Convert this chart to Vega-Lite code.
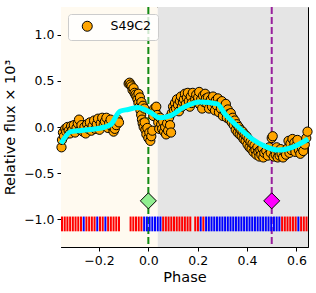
{
  "$schema": "https://vega.github.io/schema/vega-lite/v6.json",
  "width": 247,
  "height": 240,
  "autosize": "none",
  "padding": {"left": 61, "top": 7, "right": 8, "bottom": 46},
  "background": "white",
  "config": {
    "font": "DejaVu Sans",
    "view": {"stroke": "black", "strokeWidth": 1},
    "axis": {
      "domainColor": "black",
      "tickColor": "black",
      "tickSize": 4,
      "labelColor": "black",
      "titleColor": "black",
      "labelFont": "DejaVu Sans",
      "titleFont": "DejaVu Sans",
      "labelFontSize": 12.5,
      "titleFontSize": 14.5,
      "titleFontWeight": "normal",
      "grid": false
    },
    "legend": {
      "orient": "top-left",
      "offset": 7,
      "padding": 6,
      "fillColor": "rgba(255,255,255,0.8)",
      "strokeColor": "#cccccc",
      "cornerRadius": 3,
      "labelFont": "DejaVu Sans",
      "labelFontSize": 12.5,
      "labelColor": "black",
      "symbolOffset": 7,
      "labelOffset": 17,
      "symbolSize": 100,
      "symbolType": "circle",
      "symbolStrokeColor": "black",
      "symbolStrokeWidth": 1,
      "symbolFillColor": "orange"
    }
  },
  "datasets": {
    "bg": [
      {"x0": -0.36, "x1": 0.038, "zone": "early"},
      {"x0": 0.038, "x1": 0.66, "zone": "late"}
    ],
    "vlines": [
      {"phase": 0.0, "flux": -0.8, "kind": "primary"},
      {"phase": 0.5, "flux": -0.8, "kind": "secondary"}
    ],
    "ticks": [
      {"phase": -0.350, "band": "R"}, {"phase": -0.339, "band": "R"}, {"phase": -0.328, "band": "R"}, {"phase": -0.317, "band": "R"},
      {"phase": -0.306, "band": "R"}, {"phase": -0.295, "band": "R"}, {"phase": -0.284, "band": "R"}, {"phase": -0.273, "band": "R"},
      {"phase": -0.262, "band": "B"}, {"phase": -0.251, "band": "R"}, {"phase": -0.240, "band": "R"}, {"phase": -0.229, "band": "R"},
      {"phase": -0.218, "band": "R"}, {"phase": -0.207, "band": "B"}, {"phase": -0.196, "band": "R"}, {"phase": -0.185, "band": "R"},
      {"phase": -0.174, "band": "B"}, {"phase": -0.163, "band": "R"}, {"phase": -0.152, "band": "R"}, {"phase": -0.141, "band": "R"},
      {"phase": -0.130, "band": "R"}, {"phase": -0.119, "band": "R"},
      {"phase": -0.072, "band": "R"}, {"phase": -0.061, "band": "R"}, {"phase": -0.050, "band": "R"}, {"phase": -0.039, "band": "R"},
      {"phase": -0.028, "band": "R"}, {"phase": -0.017, "band": "B"}, {"phase": -0.006, "band": "B"}, {"phase": 0.005, "band": "B"},
      {"phase": 0.016, "band": "B"}, {"phase": 0.027, "band": "B"}, {"phase": 0.038, "band": "B"}, {"phase": 0.049, "band": "B"},
      {"phase": 0.060, "band": "R"}, {"phase": 0.071, "band": "R"}, {"phase": 0.082, "band": "R"}, {"phase": 0.093, "band": "R"},
      {"phase": 0.104, "band": "R"}, {"phase": 0.115, "band": "R"}, {"phase": 0.126, "band": "R"}, {"phase": 0.137, "band": "R"},
      {"phase": 0.148, "band": "R"}, {"phase": 0.159, "band": "R"}, {"phase": 0.170, "band": "R"},
      {"phase": 0.190, "band": "R"}, {"phase": 0.201, "band": "R"}, {"phase": 0.212, "band": "B"}, {"phase": 0.223, "band": "R"},
      {"phase": 0.234, "band": "B"}, {"phase": 0.245, "band": "B"}, {"phase": 0.256, "band": "B"}, {"phase": 0.267, "band": "B"},
      {"phase": 0.278, "band": "B"}, {"phase": 0.289, "band": "B"}, {"phase": 0.300, "band": "B"}, {"phase": 0.311, "band": "B"},
      {"phase": 0.322, "band": "B"}, {"phase": 0.333, "band": "B"}, {"phase": 0.344, "band": "B"}, {"phase": 0.355, "band": "B"},
      {"phase": 0.366, "band": "B"}, {"phase": 0.377, "band": "B"}, {"phase": 0.388, "band": "B"}, {"phase": 0.399, "band": "B"},
      {"phase": 0.410, "band": "B"}, {"phase": 0.421, "band": "B"}, {"phase": 0.432, "band": "B"}, {"phase": 0.443, "band": "B"},
      {"phase": 0.454, "band": "B"}, {"phase": 0.465, "band": "B"}, {"phase": 0.476, "band": "B"}, {"phase": 0.487, "band": "B"},
      {"phase": 0.498, "band": "B"}, {"phase": 0.509, "band": "B"}, {"phase": 0.520, "band": "B"}, {"phase": 0.531, "band": "B"},
      {"phase": 0.542, "band": "R"}, {"phase": 0.553, "band": "R"}, {"phase": 0.564, "band": "R"}, {"phase": 0.575, "band": "R"},
      {"phase": 0.586, "band": "R"}, {"phase": 0.597, "band": "R"}, {"phase": 0.608, "band": "B"}, {"phase": 0.619, "band": "R"},
      {"phase": 0.630, "band": "R"}, {"phase": 0.641, "band": "R"}
    ],
    "model": [
      {"phase": -0.354, "flux": -0.18}, {"phase": -0.314, "flux": -0.05}, {"phase": -0.245, "flux": -0.03},
      {"phase": -0.176, "flux": 0.0}, {"phase": -0.151, "flux": 0.03}, {"phase": -0.115, "flux": 0.17},
      {"phase": -0.082, "flux": 0.19}, {"phase": -0.042, "flux": 0.21}, {"phase": -0.009, "flux": 0.18},
      {"phase": 0.007, "flux": 0.16}, {"phase": 0.047, "flux": 0.1}, {"phase": 0.088, "flux": 0.12},
      {"phase": 0.141, "flux": 0.21}, {"phase": 0.21, "flux": 0.27}, {"phase": 0.279, "flux": 0.25},
      {"phase": 0.311, "flux": 0.14}, {"phase": 0.332, "flux": 0.08}, {"phase": 0.364, "flux": 0.0},
      {"phase": 0.421, "flux": -0.13}, {"phase": 0.473, "flux": -0.21}, {"phase": 0.526, "flux": -0.25},
      {"phase": 0.583, "flux": -0.22}, {"phase": 0.648, "flux": -0.13}
    ],
    "obs": [
      {"phase": -0.352, "flux": -0.22}, {"phase": -0.350, "flux": -0.14}, {"phase": -0.346, "flux": -0.06}, {"phase": -0.342, "flux": -0.1},
      {"phase": -0.337, "flux": -0.02}, {"phase": -0.333, "flux": -0.05}, {"phase": -0.328, "flux": 0.0}, {"phase": -0.323, "flux": -0.04},
      {"phase": -0.318, "flux": -0.07}, {"phase": -0.313, "flux": 0.01}, {"phase": -0.308, "flux": -0.03}, {"phase": -0.302, "flux": 0.02},
      {"phase": -0.297, "flux": -0.06}, {"phase": -0.291, "flux": -0.01}, {"phase": -0.286, "flux": 0.04}, {"phase": -0.281, "flux": 0.08},
      {"phase": -0.276, "flux": -0.03}, {"phase": -0.271, "flux": 0.02}, {"phase": -0.265, "flux": -0.05}, {"phase": -0.259, "flux": 0.0},
      {"phase": -0.254, "flux": -0.07}, {"phase": -0.248, "flux": 0.03}, {"phase": -0.243, "flux": -0.02}, {"phase": -0.237, "flux": 0.05},
      {"phase": -0.231, "flux": -0.04}, {"phase": -0.226, "flux": 0.01}, {"phase": -0.220, "flux": 0.07}, {"phase": -0.215, "flux": -0.02},
      {"phase": -0.209, "flux": 0.03}, {"phase": -0.204, "flux": 0.09}, {"phase": -0.198, "flux": -0.03}, {"phase": -0.193, "flux": 0.04},
      {"phase": -0.187, "flux": 0.1}, {"phase": -0.181, "flux": 0.02}, {"phase": -0.176, "flux": 0.06}, {"phase": -0.170, "flux": 0.1},
      {"phase": -0.164, "flux": -0.01}, {"phase": -0.159, "flux": 0.04}, {"phase": -0.153, "flux": 0.08}, {"phase": -0.147, "flux": 0.0},
      {"phase": -0.141, "flux": -0.05}, {"phase": -0.136, "flux": -0.02}, {"phase": -0.130, "flux": 0.02}, {"phase": -0.124, "flux": 0.08},
      {"phase": -0.119, "flux": 0.05},
      {"phase": -0.080, "flux": 0.47}, {"phase": -0.076, "flux": 0.48}, {"phase": -0.072, "flux": 0.46}, {"phase": -0.068, "flux": 0.44},
      {"phase": -0.064, "flux": 0.40}, {"phase": -0.060, "flux": 0.42}, {"phase": -0.056, "flux": 0.37}, {"phase": -0.052, "flux": 0.35},
      {"phase": -0.048, "flux": 0.33}, {"phase": -0.044, "flux": 0.30}, {"phase": -0.040, "flux": 0.26}, {"phase": -0.036, "flux": 0.22},
      {"phase": -0.032, "flux": 0.18}, {"phase": -0.029, "flux": 0.13}, {"phase": -0.026, "flux": 0.08}, {"phase": -0.023, "flux": 0.04},
      {"phase": -0.040, "flux": 0.36}, {"phase": -0.034, "flux": 0.32}, {"phase": -0.028, "flux": 0.27}, {"phase": -0.022, "flux": 0.23},
      {"phase": -0.016, "flux": 0.2},
      {"phase": -0.019, "flux": 0.0}, {"phase": -0.015, "flux": 0.05}, {"phase": -0.012, "flux": -0.03}, {"phase": -0.008, "flux": -0.08},
      {"phase": -0.004, "flux": -0.01}, {"phase": 0.000, "flux": -0.12}, {"phase": 0.004, "flux": -0.06}, {"phase": 0.008, "flux": -0.15},
      {"phase": 0.012, "flux": -0.1}, {"phase": 0.016, "flux": -0.04}, {"phase": 0.020, "flux": 0.12}, {"phase": 0.024, "flux": 0.2},
      {"phase": 0.028, "flux": 0.17}, {"phase": 0.032, "flux": 0.22}, {"phase": 0.036, "flux": 0.13}, {"phase": 0.040, "flux": 0.05},
      {"phase": 0.044, "flux": -0.02},
      {"phase": 0.048, "flux": 0.1}, {"phase": 0.052, "flux": 0.03}, {"phase": 0.056, "flux": -0.02}, {"phase": 0.060, "flux": 0.06},
      {"phase": 0.064, "flux": -0.05}, {"phase": 0.068, "flux": 0.0}, {"phase": 0.072, "flux": -0.08}, {"phase": 0.076, "flux": 0.04},
      {"phase": 0.080, "flux": -0.04}, {"phase": 0.084, "flux": 0.1}, {"phase": 0.088, "flux": 0.02}, {"phase": 0.092, "flux": -0.06},
      {"phase": 0.095, "flux": 0.15}, {"phase": 0.100, "flux": 0.22}, {"phase": 0.104, "flux": 0.18}, {"phase": 0.108, "flux": 0.26},
      {"phase": 0.112, "flux": 0.2}, {"phase": 0.116, "flux": 0.3}, {"phase": 0.120, "flux": 0.24}, {"phase": 0.124, "flux": 0.17},
      {"phase": 0.128, "flux": 0.28}, {"phase": 0.132, "flux": 0.33}, {"phase": 0.136, "flux": 0.22}, {"phase": 0.140, "flux": 0.27},
      {"phase": 0.144, "flux": 0.3}, {"phase": 0.148, "flux": 0.36}, {"phase": 0.152, "flux": 0.25}, {"phase": 0.156, "flux": 0.32},
      {"phase": 0.160, "flux": 0.37}, {"phase": 0.164, "flux": 0.28}, {"phase": 0.168, "flux": 0.22}, {"phase": 0.172, "flux": 0.33},
      {"phase": 0.176, "flux": 0.26}, {"phase": 0.180, "flux": 0.37}, {"phase": 0.190, "flux": 0.3}, {"phase": 0.194, "flux": 0.35},
      {"phase": 0.198, "flux": 0.27}, {"phase": 0.202, "flux": 0.32}, {"phase": 0.206, "flux": 0.38}, {"phase": 0.210, "flux": 0.24},
      {"phase": 0.214, "flux": 0.3}, {"phase": 0.218, "flux": 0.2}, {"phase": 0.222, "flux": 0.34}, {"phase": 0.226, "flux": 0.27},
      {"phase": 0.230, "flux": 0.36}, {"phase": 0.234, "flux": 0.31},
      {"phase": 0.238, "flux": 0.25}, {"phase": 0.242, "flux": 0.32}, {"phase": 0.246, "flux": 0.2}, {"phase": 0.250, "flux": 0.28},
      {"phase": 0.254, "flux": 0.3}, {"phase": 0.258, "flux": 0.22}, {"phase": 0.262, "flux": 0.33}, {"phase": 0.266, "flux": 0.26},
      {"phase": 0.270, "flux": 0.18}, {"phase": 0.274, "flux": 0.29}, {"phase": 0.278, "flux": 0.23}, {"phase": 0.282, "flux": 0.31},
      {"phase": 0.286, "flux": 0.16}, {"phase": 0.290, "flux": 0.26}, {"phase": 0.294, "flux": 0.2}, {"phase": 0.298, "flux": 0.28},
      {"phase": 0.302, "flux": 0.12}, {"phase": 0.306, "flux": 0.22}, {"phase": 0.310, "flux": 0.17}, {"phase": 0.314, "flux": 0.25},
      {"phase": 0.318, "flux": 0.1}, {"phase": 0.322, "flux": 0.19}, {"phase": 0.326, "flux": 0.14}, {"phase": 0.330, "flux": 0.08},
      {"phase": 0.334, "flux": 0.15}, {"phase": 0.338, "flux": 0.05}, {"phase": 0.342, "flux": 0.1}, {"phase": 0.346, "flux": 0.02},
      {"phase": 0.350, "flux": 0.07}, {"phase": 0.354, "flux": -0.03}, {"phase": 0.358, "flux": 0.03}, {"phase": 0.362, "flux": -0.06},
      {"phase": 0.366, "flux": 0.0}, {"phase": 0.370, "flux": -0.08}, {"phase": 0.374, "flux": -0.03}, {"phase": 0.378, "flux": -0.1},
      {"phase": 0.382, "flux": -0.05}, {"phase": 0.386, "flux": -0.13}, {"phase": 0.390, "flux": -0.08},
      {"phase": 0.394, "flux": -0.15}, {"phase": 0.398, "flux": -0.1}, {"phase": 0.402, "flux": -0.19}, {"phase": 0.406, "flux": -0.13},
      {"phase": 0.410, "flux": -0.22}, {"phase": 0.414, "flux": -0.16}, {"phase": 0.418, "flux": -0.24}, {"phase": 0.422, "flux": -0.18},
      {"phase": 0.426, "flux": -0.27}, {"phase": 0.430, "flux": -0.2}, {"phase": 0.434, "flux": -0.25}, {"phase": 0.438, "flux": -0.3},
      {"phase": 0.442, "flux": -0.22}, {"phase": 0.446, "flux": -0.27}, {"phase": 0.450, "flux": -0.32}, {"phase": 0.454, "flux": -0.25},
      {"phase": 0.458, "flux": -0.3}, {"phase": 0.462, "flux": -0.23}, {"phase": 0.466, "flux": -0.33}, {"phase": 0.470, "flux": -0.28},
      {"phase": 0.478, "flux": -0.26}, {"phase": 0.484, "flux": -0.31}, {"phase": 0.490, "flux": -0.22}, {"phase": 0.496, "flux": -0.28},
      {"phase": 0.500, "flux": -0.12}, {"phase": 0.504, "flux": -0.1}, {"phase": 0.508, "flux": -0.32}, {"phase": 0.512, "flux": -0.25},
      {"phase": 0.516, "flux": -0.3}, {"phase": 0.520, "flux": -0.22}, {"phase": 0.524, "flux": -0.33}, {"phase": 0.528, "flux": -0.27},
      {"phase": 0.532, "flux": -0.31}, {"phase": 0.536, "flux": -0.24}, {"phase": 0.540, "flux": -0.29}, {"phase": 0.546, "flux": -0.33},
      {"phase": 0.552, "flux": -0.27}, {"phase": 0.558, "flux": -0.3}, {"phase": 0.564, "flux": -0.23}, {"phase": 0.568, "flux": -0.15},
      {"phase": 0.572, "flux": -0.28}, {"phase": 0.576, "flux": -0.18}, {"phase": 0.580, "flux": -0.25}, {"phase": 0.584, "flux": -0.13},
      {"phase": 0.588, "flux": -0.22}, {"phase": 0.592, "flux": -0.17}, {"phase": 0.596, "flux": -0.27}, {"phase": 0.600, "flux": -0.2},
      {"phase": 0.604, "flux": -0.14}, {"phase": 0.610, "flux": -0.25}, {"phase": 0.616, "flux": -0.29}, {"phase": 0.622, "flux": -0.22},
      {"phase": 0.628, "flux": -0.26}, {"phase": 0.634, "flux": -0.19}, {"phase": 0.640, "flux": -0.12}, {"phase": 0.645, "flux": -0.05}
    ]
  },
  "layer": [
    {
      "data": {"name": "bg"},
      "mark": {"type": "rect", "clip": true},
      "encoding": {
        "x": {"field": "x0", "type": "quantitative", "scale": {"domain": [-0.354, 0.647], "nice": false, "zero": false},
              "axis": {"title": "Phase", "values": [-0.2, 0.0, 0.2, 0.4, 0.6], "format": ".1f", "labelPadding": 3, "titlePadding": 4}},
        "x2": {"field": "x1"},
        "color": {"condition": {"test": "datum.zone === 'early'", "value": "#fffaf0"}, "value": "#e5e5e5"}
      }
    },
    {
      "data": {"name": "vlines"},
      "mark": {"type": "rule", "strokeWidth": 2, "strokeDash": [7, 3]},
      "encoding": {
        "x": {"field": "phase", "type": "quantitative"},
        "color": {"condition": {"test": "datum.kind === 'primary'", "value": "#138a13"}, "value": "#98209c"}
      }
    },
    {
      "data": {"name": "ticks"},
      "mark": {"type": "rule", "strokeWidth": 2},
      "encoding": {
        "x": {"field": "phase", "type": "quantitative"},
        "y": {"datum": -0.97},
        "y2": {"datum": -1.13},
        "color": {"condition": {"test": "datum.band === 'R'", "value": "#ff0000"}, "value": "#0000ff"}
      }
    },
    {
      "data": {"name": "obs"},
      "transform": [{"calculate": "'S49C2'", "as": "series"}],
      "mark": {"type": "point", "filled": true, "size": 85, "stroke": "black", "strokeWidth": 1, "opacity": 1},
      "encoding": {
        "x": {"field": "phase", "type": "quantitative"},
        "y": {"field": "flux", "type": "quantitative",
              "scale": {"domain": [-1.3, 1.3], "nice": false, "zero": false},
              "axis": {"title": "Relative flux × 10³", "values": [-1.0, -0.5, 0.0, 0.5, 1.0], "format": ".1f", "labelPadding": 3, "titlePadding": 6}},
        "color": {"field": "series", "type": "nominal", "scale": {"domain": ["S49C2"], "range": ["orange"]},
                  "legend": {"title": null}}
      }
    },
    {
      "data": {"name": "model"},
      "mark": {"type": "line", "color": "#00ffff", "strokeWidth": 5, "interpolate": "monotone"},
      "encoding": {
        "x": {"field": "phase", "type": "quantitative"},
        "y": {"field": "flux", "type": "quantitative"}
      }
    },
    {
      "data": {"name": "vlines"},
      "mark": {"type": "point", "shape": "diamond", "filled": true, "size": 256, "stroke": "black", "strokeWidth": 1, "opacity": 1},
      "encoding": {
        "x": {"field": "phase", "type": "quantitative"},
        "y": {"field": "flux", "type": "quantitative"},
        "fill": {"condition": {"test": "datum.kind === 'primary'", "value": "#90ee90"}, "value": "#ff00ff"}
      }
    }
  ]
}
